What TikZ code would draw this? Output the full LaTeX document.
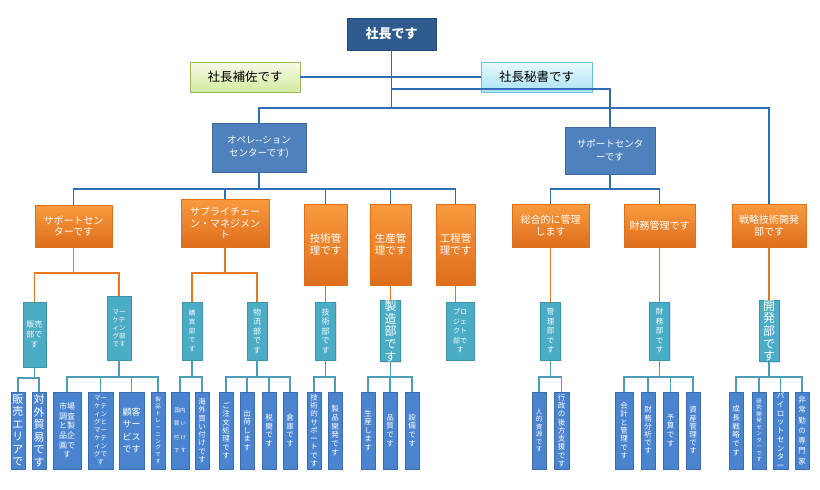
\documentclass[tikz,border=0pt]{standalone}
\usepackage{fontspec}
\setmainfont{Noto Sans CJK JP}
\usetikzlibrary{shadows}
\definecolor{ceoC}{HTML}{2F5B8E}
\definecolor{ceoB}{HTML}{24497A}
\definecolor{midC}{HTML}{4F81BD}
\definecolor{midB}{HTML}{3D6A9F}
\definecolor{orT}{HTML}{F99A3E}
\definecolor{orB}{HTML}{DE6E1C}
\definecolor{orD}{HTML}{E07018}
\definecolor{tealC}{HTML}{4BACC6}
\definecolor{tealB}{HTML}{3A95AD}
\definecolor{botC}{HTML}{4A84CF}
\definecolor{botB}{HTML}{3B6DB3}
\definecolor{lineB}{HTML}{2F6DB5}
\definecolor{lineO}{HTML}{E8761E}
\definecolor{lineT}{HTML}{4A9DB4}
\definecolor{grT}{HTML}{F6FBE8}
\definecolor{grB}{HTML}{D3EAA0}
\definecolor{grD}{HTML}{9BBB59}
\definecolor{cyT}{HTML}{EAF9FD}
\definecolor{cyB}{HTML}{A9E2F3}
\definecolor{cyD}{HTML}{6CC1D6}
\def\vst#1{\vstFirst#1\vstEnd}
\def\vstFirst#1{#1\vstA}
\def\vstA#1{\ifx#1\vstEnd\else\\#1\expandafter\vstA\fi}
\newcommand\bx[7]{\node[#2, minimum width={#5-#3}, minimum height={#6-#4}] (#1) at ({(#3+#5)/2},{(#4+#6)/2}) {#7};}
\tikzset{
  fs/.style 2 args={font=\fontsize{#1}{#2}\selectfont},
  shd/.style={drop shadow={opacity=0.22, shadow xshift=1.2pt, shadow yshift=-1.2pt}},
  base/.style={inner sep=0pt, align=center, text=white, line width=0.7pt, shd},
  ceobox/.style={base, draw=ceoB, fill=ceoC, font=\fontsize{13}{15}\selectfont\bfseries},
  greenbox/.style={base, text=black, draw=grD, top color=grT, bottom color=grB, fs={12.5}{15}},
  cyanbox/.style={base, text=black, draw=cyD, top color=cyT, bottom color=cyB, fs={12.5}{15}},
  midbox/.style={base, draw=midB, fill=midC, fs={9.5}{13}},
  orbox/.style={base, draw=orD, top color=orT, bottom color=orB, fs={10}{11.6}},
  tbox/.style={base, draw=tealB, fill=tealC},
  bbox/.style={base, draw=botB, fill=botC},
  bl/.style={draw=lineB, line width=1.6pt},
  ol/.style={draw=lineO, line width=1.6pt},
  tl/.style={draw=lineT, line width=1.6pt},
}
\begin{document}
\begin{tikzpicture}[x=1pt,y=-1pt]
\fill[white] (0,0) rectangle (820,490);
\useasboundingbox (0,0) rectangle (820,490);
% junction coordinates
\coordinate (j1) at (391.5,108);
\coordinate (j2) at (391.5,89);
\coordinate (j3) at (259,189);
\coordinate (j4) at (610,189);
\coordinate (k1) at (73.5,273);
\coordinate (k2) at (225,273);
\coordinate (m1) at (34.5,378);
\coordinate (m2) at (119,377);
\coordinate (m3) at (192,377);
\coordinate (m4) at (257,377);
\coordinate (m5) at (325.5,377);
\coordinate (m6) at (390.5,377);
\coordinate (m7) at (550.5,377);
\coordinate (m8) at (659.5,377);
\coordinate (m9) at (769,377);
% top level nodes
\bx{ceo}{ceobox}{347}{18}{436}{50}{社長です}
\bx{asst}{greenbox}{190}{62}{300}{92}{社長補佐です}
\bx{sec}{cyanbox}{481}{62}{592}{92}{社長秘書です}
\bx{ops}{midbox}{212}{123}{306}{172}{オペレ-{}-ション\\センターです)}
\bx{sup}{midbox}{565}{127}{655}{174}{サポートセンタ\\ーです}
% orange
\bx{o1}{orbox}{35}{205}{112}{247}{サポートセン\\ターです}
\bx{o2}{orbox}{181}{199}{269}{247}{サプライチェー\\ン・マネジメン\\ト}
\bx{o3}{orbox,fs={10.5}{12}}{304}{204}{347}{285}{技術管\\理です}
\bx{o4}{orbox,fs={10.5}{12}}{370}{204}{411}{285}{生産管\\理です}
\bx{o5}{orbox,fs={10.5}{12}}{436}{204}{475}{285}{工程管\\理です}
\bx{o6}{orbox}{512}{204}{589}{247}{総合的に管理\\します}
\bx{o7}{orbox}{624}{204}{695}{247}{財務管理です}
\bx{o8}{orbox}{732}{204}{806}{247}{戦略技術開発\\部です}
% teal
\bx{t1}{tbox,fs={8}{10}}{23}{302}{46}{367}{販売\\部で\\す}
\bx{t2}{tbox,fs={6.5}{8}}{107}{296}{131}{360}{マー\\ケテ\\ィン\\グ部\\です}
\bx{t3}{tbox,fs={6.5}{9}}{182}{302}{202}{360}{\vst{購買部です}}
\bx{t4}{tbox,fs={8}{9.5}}{247}{302}{267}{360}{\vst{物流部です}}
\bx{t5}{tbox,fs={8}{9.5}}{315.5}{302}{335.5}{360}{\vst{技術部です}}
\bx{t6}{tbox,fs={12}{12.7}}{380.5}{302}{400.5}{360}{\vst{製造部です}}
\bx{t7}{tbox,fs={7}{9.5}}{446}{302}{474}{360}{プロ\\ジェ\\クト\\部で\\す}
\bx{t8}{tbox,fs={7.5}{9.5}}{540.5}{302}{560.5}{360}{\vst{管理部です}}
\bx{t9}{tbox,fs={7.5}{9.5}}{649.5}{302}{669.5}{360}{\vst{財務部です}}
\bx{t10}{tbox,fs={12}{12.7}}{759}{302}{779}{360}{\vst{開発部です}}
% bottom
\bx{b1}{bbox,fs={11}{12.5}}{11}{392}{25}{469}{\vst{販売エリアで}}
\bx{b2}{bbox,fs={11}{12.5}}{32}{392}{46}{469}{\vst{対外貿易です}}
\bx{b3}{bbox,fs={8}{9.7}}{53}{392}{81}{469}{市場\\調査\\と製\\品企\\画で\\す}
\bx{b4}{bbox,fs={6.5}{7.9}}{88}{392}{113}{469}{マー\\ケテ\\ィン\\グと\\マー\\ケテ\\ィン\\グで\\す}
\bx{b5}{bbox,fs={9}{12.3}}{119}{392}{144}{469}{顧客\\サー\\ビス\\です}
\bx{b6}{bbox,fs={5.5}{6.9}}{151}{392}{165}{469}{\vst{製品トレーニングです}}
\bx{b7}{bbox,fs={5.5}{13.5}}{171}{392}{189}{469}{国内\\買 い\\付 け\\で す}
\bx{b8}{bbox,fs={7.5}{8.3}}{195}{392}{209}{469}{\vst{海外買い付けです}}
\bx{b9}{bbox,fs={7.5}{8.3}}{219}{392}{233}{469}{\vst{ご注文処理です}}
\bx{b10}{bbox,fs={7.5}{8.5}}{240}{392}{254}{469}{\vst{出荷します}}
\bx{b11}{bbox,fs={7.5}{8.7}}{262}{392}{276}{469}{\vst{税関です}}
\bx{b12}{bbox,fs={7.5}{8.7}}{283}{392}{297}{469}{\vst{倉庫です}}
\bx{b13}{bbox,fs={7.5}{8.25}}{307}{392}{321}{469}{\vst{技術的サポートです}}
\bx{b14}{bbox,fs={7.5}{8.8}}{328}{392}{342}{469}{\vst{製品開発です}}
\bx{b15}{bbox,fs={7.5}{8.5}}{361}{392}{375}{469}{\vst{生産します}}
\bx{b16}{bbox,fs={7.5}{8.7}}{383}{392}{397}{469}{\vst{品質です}}
\bx{b17}{bbox,fs={7.5}{8.7}}{405}{392}{419}{469}{\vst{設備です}}
\bx{b18}{bbox,fs={6.5}{7.5}}{532}{392}{546}{469}{\vst{人的資源です}}
\bx{b19}{bbox,fs={7.5}{8.25}}{554}{392}{569}{469}{\vst{行政の後方支援です}}
\bx{b20}{bbox,fs={7.5}{8.3}}{615}{392}{633}{469}{\vst{会計と管理です}}
\bx{b21}{bbox,fs={7.5}{8.2}}{641}{392}{655}{469}{\vst{財務分析です}}
\bx{b22}{bbox,fs={7.5}{8.7}}{663}{392}{678}{469}{\vst{予算です}}
\bx{b23}{bbox,fs={7.5}{8.2}}{686}{392}{700}{469}{\vst{資産管理です}}
\bx{b24}{bbox,fs={7.5}{8.8}}{729}{392}{743}{469}{\vst{成長戦略です}}
\bx{b25}{bbox,fs={5.5}{6.5}}{752}{392}{766}{469}{\vst{研究開発センターです}}
\bx{b26}{bbox,fs={7.5}{8.75}}{773}{392}{788}{469}{\vst{パイロットセンター}}
\bx{b27}{bbox,fs={7.5}{10.3}}{795}{392}{809}{469}{\vst{非常勤の専門家}}
% ---------- connectors ----------
\draw[bl] (ceo.south) -- (j1);
\draw[bl] (asst.east) -- (sec.west);
\draw[bl] (j2) -| (sup.north);
\draw[bl] (j1) -| (ops.north);
\draw[bl] (j1) -| (o8.north);
\draw[bl] (ops.south) -- (j3);
\foreach \n in {o1,o2,o3,o4,o5} \draw[bl] (j3) -| (\n.north);
\draw[bl] (sup.south) -- (j4);
\foreach \n in {o6,o7} \draw[bl] (j4) -| (\n.north);
\draw[ol] (o1.south) -- (k1);
\foreach \n in {t1,t2} \draw[ol] (k1) -| (\n.north);
\draw[ol] (o2.south) -- (k2);
\foreach \n in {t3,t4} \draw[ol] (k2) -| (\n.north);
\draw[ol] (o3.south) -- (t5.north);
\draw[ol] (o4.south) -- (t6.north);
\draw[ol] (o5.south) -- (o5.south |- t7.north);
\draw[ol] (o6.south) -- (t8.north);
\draw[ol] (o7.south) -- (t9.north);
\draw[ol] (o8.south) -- (t10.north);
\draw[tl] (t1.south) -- (m1);
\foreach \n in {b1,b2} \draw[tl] (m1) -| (\n.north);
\draw[tl] (t2.south) -- (m2);
\foreach \n in {b3,b4,b5,b6} \draw[tl] (m2) -| (\n.north);
\draw[tl] (t3.south) -- (m3);
\foreach \n in {b7,b8} \draw[tl] (m3) -| (\n.north);
\draw[tl] (t4.south) -- (m4);
\foreach \n in {b9,b10,b11,b12} \draw[tl] (m4) -| (\n.north);
\draw[tl] (t5.south) -- (m5);
\foreach \n in {b13,b14} \draw[tl] (m5) -| (\n.north);
\draw[tl] (t6.south) -- (m6);
\foreach \n in {b15,b16,b17} \draw[tl] (m6) -| (\n.north);
\draw[tl] (t8.south) -- (m7);
\foreach \n in {b18,b19} \draw[tl] (m7) -| (\n.north);
\draw[tl] (t9.south) -- (m8);
\foreach \n in {b20,b21,b22,b23} \draw[tl] (m8) -| (\n.north);
\draw[tl] (t10.south) -- (m9);
\foreach \n in {b24,b25,b26,b27} \draw[tl] (m9) -| (\n.north);
\end{tikzpicture}
\end{document}
